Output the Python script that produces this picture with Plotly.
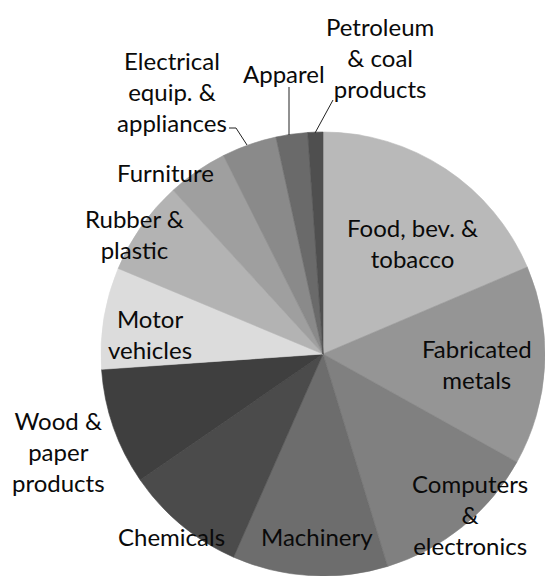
import plotly.graph_objects as go

# Share of manufacturing by industry (percent), clockwise from 12 o'clock
industries = [
    "Food, bev. & tobacco", "Fabricated metals", "Computers & electronics",
    "Machinery", "Chemicals", "Wood & paper products", "Motor vehicles",
    "Rubber & plastic", "Furniture", "Electrical equip. & appliances",
    "Apparel", "Petroleum & coal products",
]
shares = [18.6, 14.5, 12.2, 11.3, 8.8, 8.5, 7.4, 6.9, 4.4, 4.0, 2.3, 1.1]
shades = [
    "#b9b9b9", "#959595", "#808080", "#6d6d6d", "#4b4b4b", "#3f3f3f",
    "#dcdcdc", "#b3b3b3", "#9f9f9f", "#8a8a8a", "#6a6a6a", "#4f4f4f",
]

# Wrapped label text shown on the chart
label_text = [
    "Food, bev. &<br>tobacco", "Fabricated<br>metals", "Computers<br>&<br>electronics",
    "Machinery", "Chemicals", "Wood &<br>paper<br>products", "Motor<br>vehicles",
    "Rubber &<br>plastic", "Furniture", "Electrical<br>equip. &<br>appliances",
    "Apparel", "Petroleum<br>& coal<br>products",
]

W, H = 545, 576
FONT = "Lato"

fig = go.Figure(go.Pie(
    labels=industries,
    values=shares,
    sort=False,
    direction="clockwise",
    rotation=0,
    # slice outline in the slice's own shade hides antialiasing seams
    marker=dict(colors=shades, line=dict(color=shades, width=0.6)),
    textinfo="none",
    hoverinfo="label+percent",
    domain=dict(x=[101 / W, 1.0], y=[0.0, 444 / H]),
    showlegend=False,
))

# label anchor points in pixels (x, y from top)
label_pos = [
    (412, 243), (477, 364), (470, 514), (317, 536), (171, 536), (58, 451),
    (150, 334), (134, 234), (165, 172), (172, 91), (284, 73), (380, 57),
]

for txt, (px, py) in zip(label_text, label_pos):
    fig.add_annotation(
        x=px / W, y=1 - py / H, xref="paper", yref="paper",
        text=txt, showarrow=False, xanchor="center", yanchor="middle",
        align="center", font=dict(family=FONT, size=24, color="#0a0a0a"),
    )

# leader lines for the small top slices
leaders = [
    [(229, 128), (236, 128), (247, 145)],
    [(289, 87), (289, 135)],
    [(333, 100), (315, 133)],
]
for pts in leaders:
    for (x0, y0), (x1, y1) in zip(pts[:-1], pts[1:]):
        fig.add_shape(
            type="line", xref="paper", yref="paper",
            x0=x0 / W, y0=1 - y0 / H, x1=x1 / W, y1=1 - y1 / H,
            line=dict(color="#222222", width=1),
        )

fig.update_layout(
    width=W, height=H,
    margin=dict(l=0, r=0, t=0, b=0),
    paper_bgcolor="white",
    plot_bgcolor="white",
)

fig.write_html("out.html")
